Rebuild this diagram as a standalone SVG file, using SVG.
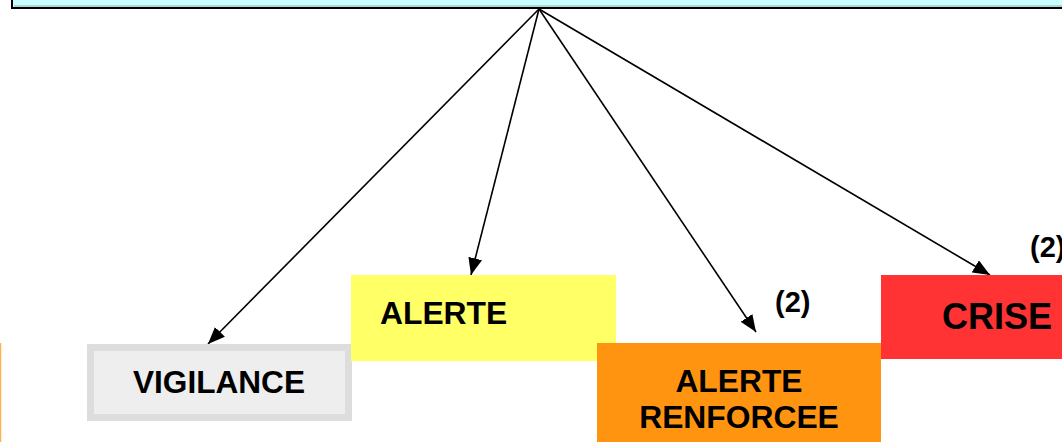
<svg xmlns="http://www.w3.org/2000/svg" width="1062" height="442" viewBox="0 0 1062 442">
<style>
.t{font-family:"Liberation Sans",Arial,sans-serif;font-weight:bold;fill:#000}
.c{stroke:#000;stroke-width:1.6;fill:none}
</style>
<defs>
<marker id="ah" markerUnits="userSpaceOnUse" markerWidth="18" markerHeight="14" refX="17" refY="7" orient="auto">
<path d="M0,0 L17,7 L0,14 Z" fill="#000"/>
</marker>
</defs>
<rect width="1062" height="442" fill="#fff"/>
<g id="top">
<rect x="12" y="-20" width="1070" height="28" fill="#C8FFFF" stroke="#000" stroke-width="2"/>
<line x1="14" y1="6" x2="1062" y2="6" stroke="#9aa" stroke-width="1"/>
</g>
<g id="left-edge">
<line x1="0.5" y1="343" x2="0.5" y2="442" stroke="#FFB050" stroke-width="1.5"/>
</g>
<g id="connectors">
<line class="c" x1="539" y1="9" x2="208" y2="344" marker-end="url(#ah)"/>
<line class="c" x1="539" y1="9" x2="471" y2="275" marker-end="url(#ah)"/>
<line class="c" x1="539" y1="9" x2="756" y2="332" marker-end="url(#ah)"/>
<line class="c" x1="539" y1="9" x2="990" y2="275" marker-end="url(#ah)"/>
</g>
<g id="vigilance">
<rect x="90.5" y="347.5" width="258" height="70" fill="#EEEEEE" stroke="#DDDDDD" stroke-width="7"/>
<text class="t" x="219" y="393" font-size="31.6" text-anchor="middle">VIGILANCE</text>
</g>
<g id="alerte">
<rect x="351" y="275" width="265" height="86" fill="#FFFF66"/>
<text class="t" x="380" y="324" font-size="31.8">ALERTE</text>
</g>
<g id="alerte-renforcee">
<rect x="597" y="343" width="284" height="110" fill="#FF9411"/>
<text class="t" x="739" y="392" font-size="31.8" text-anchor="middle">ALERTE</text>
<text class="t" x="739" y="428" font-size="31.8" text-anchor="middle">RENFORCEE</text>
</g>
<g id="crise">
<rect x="881" y="275" width="190" height="84" fill="#FF3333"/>
<text class="t" x="942" y="329" font-size="36">CRISE</text>
</g>
<g id="labels">
<text class="t" x="775" y="312" font-size="29">(2)</text>
<text class="t" x="1030" y="257" font-size="29">(2)</text>
</g>
</svg>
